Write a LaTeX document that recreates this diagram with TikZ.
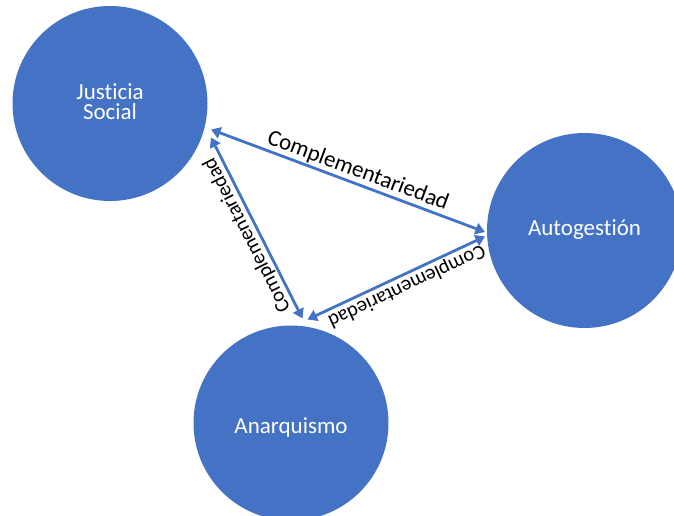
\documentclass[tikz,border=0pt]{standalone}
\usepackage{fontspec}
\setmainfont{Carlito}[Ligatures={NoCommon}]
\usetikzlibrary{arrows.meta}
\definecolor{nodeblue}{HTML}{4472C4}
\begin{document}
\begin{tikzpicture}[x=1pt,y=-1pt,
  concept/.style={circle, fill=nodeblue, text=white, minimum size=195pt,
    inner sep=0pt, align=center, font=\fontsize{23}{24}\selectfont},
  link/.style={draw=nodeblue, line width=2.8pt,
    {Triangle[length=9.5pt,width=11.5pt]}-{Triangle[length=9.5pt,width=11.5pt]}},
  tag/.style={sloped, allow upside down, above, inner sep=1.5pt, text=black,
    font=\fontsize{20.5}{22}\selectfont},
  bigtag/.style={tag, font=\fontsize{23}{24}\selectfont}
]
\useasboundingbox (0,0) rectangle (674,516);

% the three concepts (baselines set explicitly inside each circle)
\node[concept] (J) at (110,103.5) {\raisebox{3pt}{\shortstack{Justicia\\[1pt]Social}}};
\node[concept] (G) at (584.5,230.5) {\raisebox{-4.5pt}[0pt][0pt]{Autogestión}};
\node[concept] (A) at (291,423) {\raisebox{-10pt}[0pt][0pt]{Anarquismo}};

% arrow end points just outside each circle
\coordinate (JG) at (211,129.5);
\coordinate (JA) at (211,137.5);
\coordinate (GJ) at (485,232);
\coordinate (GA) at (485,236.5);
\coordinate (AJ) at (302.5,318.5);
\coordinate (AG) at (307.5,319.5);

% two-way links between the concepts
\draw[link] (JG) -- node[bigtag, pos=0.52] {Complementariedad} (GJ);
\draw[link] (AJ) -- node[tag, pos=0.49] {Complementariedad} (JA);
\draw[link] (GA) -- node[tag, pos=0.47] {Complementariedad} (AG);
\end{tikzpicture}
\end{document}
